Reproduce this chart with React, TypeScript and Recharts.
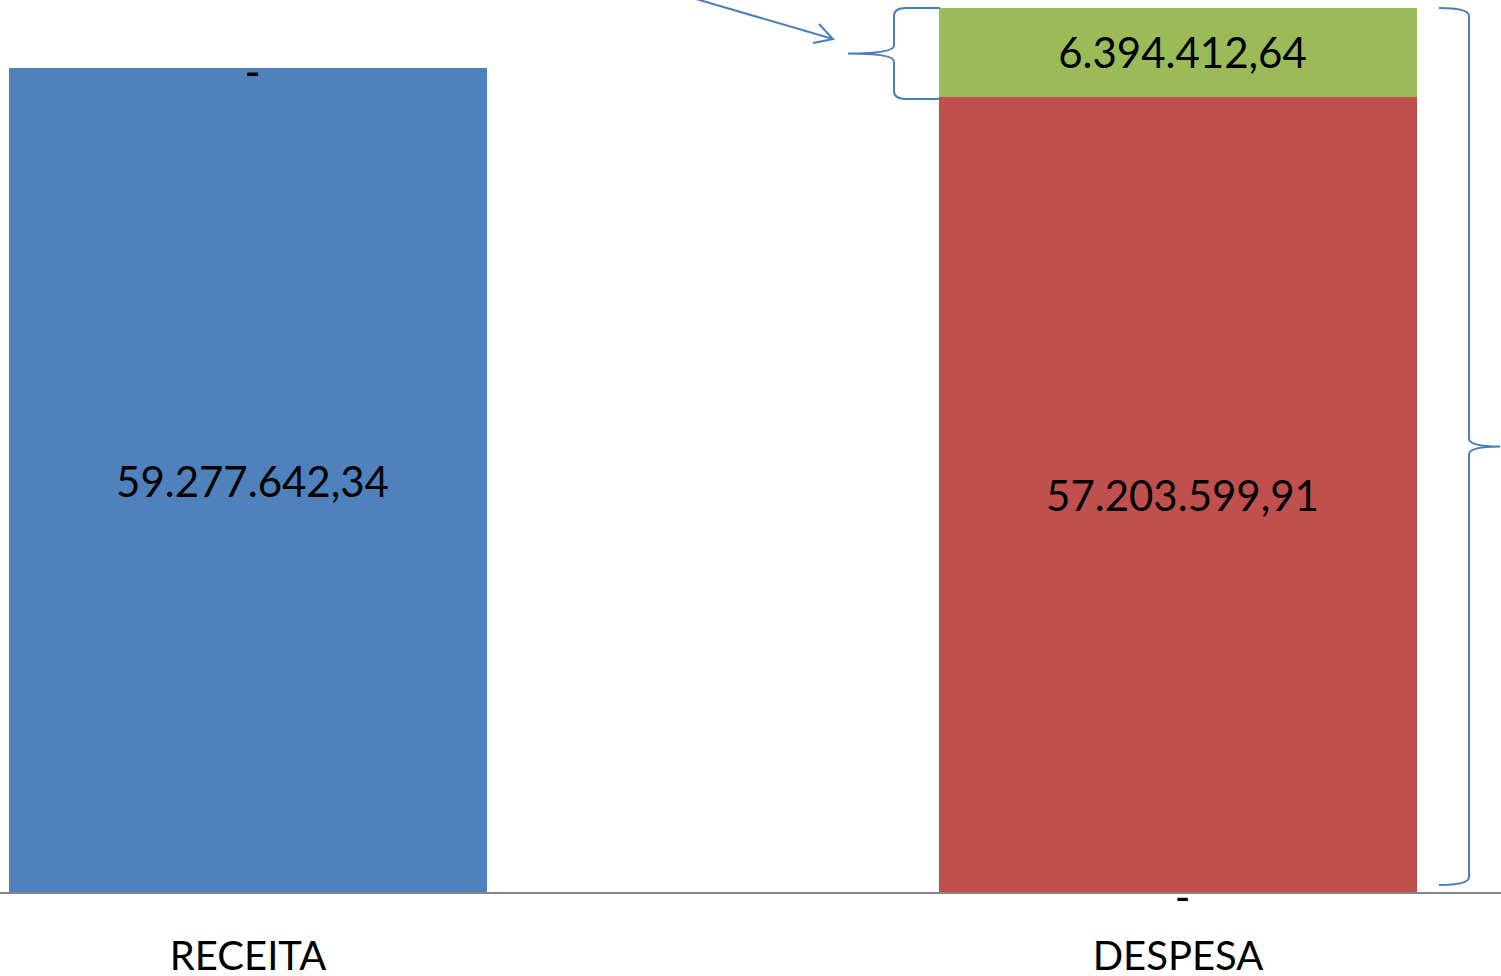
import React from 'react';
import { BarChart, Bar, XAxis, YAxis, LabelList } from 'recharts';

const categories = ['RECEITA', 'DESPESA'];
const receitaValues = [59277642.34, 0];
const despesaValues = [0, 57203599.91];
const saldoValues = [0, 6394412.64];

const seriesValues = [receitaValues, despesaValues, saldoValues];

const data = categories.map((name, i) => ({
  name,
  receita: receitaValues[i],
  despesa: despesaValues[i],
  saldo: saldoValues[i],
}));

const FONT = 'Lato, "Open Sans", sans-serif';
const BRACE = '#4A7EBB';

function fmt(v: number): string {
  if (!v) return '-';
  const fixed = v.toFixed(2);
  const [intPart, dec] = fixed.split('.');
  const withDots = intPart.replace(/\B(?=(\d{3})+(?!\d))/g, '.');
  return `${withDots},${dec}`;
}

function readValue(raw: any): number {
  if (Array.isArray(raw)) return Number(raw[1]) - Number(raw[0]);
  return Number(raw);
}

const Txt = ({ x, y, s, dy = 16 }: { x: number; y: number; s: string; dy?: number }) => (
  <text x={x} y={y} dy={dy} textAnchor="middle" fontFamily={FONT} fontSize={42} fill="#000">
    {s}
  </text>
);

// label for series k; also draws "-" labels for zero-valued neighbours in the same stack
const makeLabel = (k: number, extra?: (p: any, idx: number) => React.ReactNode) => (props: any) => {
  const { x, y, width, height } = props;
  const v = readValue(props.value);
  const idx = seriesValues[k].indexOf(v);
  const cx = Number(x) + Number(width) / 2 + 4.5;
  const top = Number(y);
  const bottom = Number(y) + Number(height);
  const dashes: React.ReactNode[] = [];
  // zero series directly above this one sit at this bar's top
  for (let j = k + 1; j < seriesValues.length && idx >= 0 && !seriesValues[j][idx]; j++) {
    dashes.push(<Txt key={`a${j}`} x={cx} y={top} s={fmt(0)} dy={19} />);
  }
  // if this is the lowest non-zero series, zero series below it sit at its bottom
  let lowest = idx >= 0;
  for (let j = 0; j < k && idx >= 0; j++) if (seriesValues[j][idx]) lowest = false;
  if (lowest) {
    for (let j = 0; j < k; j++) dashes.push(<Txt key={`b${j}`} x={cx} y={bottom} s={fmt(0)} dy={19} />);
  }
  return (
    <g>
      <Txt x={cx} y={(top + bottom) / 2} s={fmt(v)} />
      {dashes}
      {extra && idx >= 0 ? extra(props, idx) : null}
    </g>
  );
};

// right brace spanning the whole DESPESA stack
const rightBrace = (p: any, idx: number) => {
  if (categories[idx] !== 'DESPESA') return null;
  const x = Number(p.x), y = Number(p.y), w = Number(p.width), h = Number(p.height);
  const bottom = y + h;
  const top = y - h * (saldoValues[idx] / despesaValues[idx]);
  const x0 = x + w + 22;
  const xv = x0 + 30;
  const xt = x0 + 61;
  const yt = top;
  const yb = bottom - 8;
  const ym = (yt + yb) / 2;
  const d = `M ${x0} ${yt} Q ${xv} ${yt} ${xv} ${yt + 8} L ${xv} ${ym - 8} Q ${xv} ${ym} ${xt} ${ym} Q ${xv} ${ym} ${xv} ${ym + 8} L ${xv} ${yb - 8} Q ${xv} ${yb} ${x0} ${yb}`;
  return <path d={d} fill="none" stroke={BRACE} strokeWidth={2} />;
};

// left brace + arrow next to the green segment
const leftBrace = (p: any, idx: number) => {
  if (categories[idx] !== 'DESPESA') return null;
  const x = Number(p.x), y = Number(p.y), h = Number(p.height);
  const xr = x + 1;
  const xv = x - 45;
  const xt = x - 91;
  const yt = y;
  const yb = y + h + 2;
  const ym = (yt + yb) / 2;
  const d = `M ${xr} ${yt} L ${xv + 12} ${yt} Q ${xv} ${yt} ${xv} ${yt + 8} L ${xv} ${ym - 8} Q ${xv} ${ym} ${xt} ${ym} Q ${xv} ${ym} ${xv} ${ym + 8} L ${xv} ${yb - 8} Q ${xv} ${yb} ${xv + 12} ${yb} L ${xr} ${yb}`;
  const tipX = x - 106, tipY = y + 31;
  return (
    <g>
      <path d={d} fill="none" stroke={BRACE} strokeWidth={2} />
      <line x1={x - 243} y1={y - 9} x2={tipX} y2={tipY} stroke={BRACE} strokeWidth={2} />
      <polyline points={`${x - 126},${y + 35} ${tipX},${tipY} ${x - 120},${y + 16}`} fill="none" stroke={BRACE} strokeWidth={2} />
    </g>
  );
};

const CategoryTick = (props: any) => {
  const { x, y, payload } = props;
  return (
    <text x={x} y={Number(y) + 69} textAnchor="middle" fontFamily={FONT} fontSize={40} fill="#000">
      {payload.value}
    </text>
  );
};

export default function App() {
  return (
    <div style={{ position: 'absolute', left: 0, top: 0, width: 1501, height: 976, overflow: 'hidden', background: '#fff' }}>
      <div style={{ position: 'absolute', left: -217, top: 0 }}>
        <BarChart width={1860} height={976} data={data} margin={{ top: 8, right: 0, bottom: 0, left: 0 }} barGap={0}>
          <XAxis
            dataKey="name"
            height={83}
            axisLine={{ stroke: '#868686', strokeWidth: 2 }}
            tickLine={false}
            tick={<CategoryTick />}
            interval={0}
          />
          <YAxis hide domain={[0, 'dataMax']} />
          <Bar dataKey="receita" name="Receita" stackId="a" fill="#4F81BD" barSize={478} isAnimationActive={false}>
            <LabelList dataKey="receita" content={makeLabel(0)} />
          </Bar>
          <Bar dataKey="despesa" name="Despesa" stackId="a" fill="#C0504D" barSize={478} isAnimationActive={false}>
            <LabelList dataKey="despesa" content={makeLabel(1, rightBrace)} />
          </Bar>
          <Bar dataKey="saldo" name="Superávit" stackId="a" fill="#9BBB59" barSize={478} isAnimationActive={false}>
            <LabelList dataKey="saldo" content={makeLabel(2, leftBrace)} />
          </Bar>
        </BarChart>
      </div>
    </div>
  );
}
